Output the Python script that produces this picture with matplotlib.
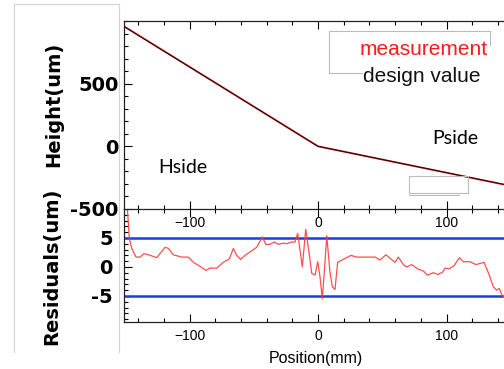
import matplotlib
matplotlib.use("Agg")
import matplotlib.pyplot as plt
from matplotlib.ticker import MultipleLocator, FixedLocator
from matplotlib.lines import Line2D

# design profile (um) along position (mm)
design_x = [-150, 0, 150]
design_h = [950, 0, -315]
meas_x = [-150, -75, 0, 75, 150]
meas_h = [951, 476, 0, -158, -316]

# residuals (um)
res_x = [-149, -146.8, -145, -141.6, -138.5, -135.4, -132, -125.5, -119, -116.5,
         -112.6, -106, -101, -97, -91.8, -87.2, -84, -78.8, -73.7, -69,
         -65.9, -63.3, -60.2, -56.8, -52.9, -47.7, -43.3, -40.7, -37.4, -34,
         -30.9, -27, -24.4, -20.5, -17.9, -15.8, -12.2, -9.6, -6.2, -4.9,
         -2.3, -0.2, 1.6, 3.3, 4.9, 6.8, 9.3, 11.1, 13.2, 15.3,
         20.5, 25.7, 30.1, 36.6, 44.4, 48.2, 52.9, 56, 59.9, 62.5,
         66.4, 69, 72.9, 78.1, 82, 85.1, 89.8, 93.6, 97, 98.8,
         102.2, 105.8, 110, 113.1, 118.3, 123, 126, 129.2, 133.3, 136.4,
         139, 141.1, 143, 145, 148]
res_v = [12, 4.9, 3.2, 1.7, 1.7, 2.3, 2.1, 1.6, 3.4, 3.2,
         2.1, 1.7, 1.7, 0.8, 0.1, -0.6, -0.2, -0.2, 0.8, 1.4,
         3.2, 2.0, 1.3, 2.0, 2.6, 3.4, 5.2, 3.9, 3.9, 4.3,
         3.9, 4.1, 4.0, 4.3, 4.3, 5.8, 0.0, 6.5, 1.2, -1.1,
         -1.4, 0.9, -1.8, -5.5, -0.9, 5.4, -0.9, -3.4, -3.9, 0.8,
         1.4, 2.0, 1.7, 1.7, 1.7, 1.2, 2.1, 1.5, 0.8, 1.7,
         0.4, 0.0, 0.4, -0.4, -0.7, -1.4, -1.0, -1.3, -0.9, -0.2,
         -0.3, 0.2, 1.6, 0.9, 0.9, 0.4, 0.6, 0.8, -1.4, -3.4,
         -4.0, -3.7, -4.8, -5.3, -6.0]
limits = [5, -5]

W, H = 504, 369


def fx(x):
    return x / W


def fy(y):
    return 1 - y / H


def fig_line(xs, ys, color="#bbbbbb", lw=0.8):
    fig.add_artist(Line2D([fx(v) for v in xs], [fy(v) for v in ys],
                          transform=fig.transFigure, color=color, lw=lw))


fig = plt.figure(figsize=(W / 100, H / 100), dpi=100)

left = fx(124)
width = (510.75 - 124) / W
ax_res = fig.add_axes([left, fy(322), width, fy(209) - fy(322)])
ax_top = fig.add_axes([left, fy(209), width, fy(21) - fy(209)])
ax_res.patch.set_visible(False)

tick_font = {"family": "DejaVu Sans", "weight": "bold", "size": 14}

# top panel
ax_top.plot(meas_x, meas_h, color="#e02a2a", lw=1.3)
ax_top.plot(design_x, design_h, color="#1a0505", lw=0.7)
ax_top.set_xlim(-151, 150)
ax_top.set_ylim(-500, 1000)
ax_top.xaxis.set_major_locator(MultipleLocator(100))
ax_top.xaxis.set_minor_locator(MultipleLocator(20))
ax_top.yaxis.set_major_locator(FixedLocator([-500, 0, 500]))
ax_top.yaxis.set_minor_locator(MultipleLocator(100))
ax_top.set_yticklabels(["-500", "0", "500"], fontdict=tick_font)
ax_top.tick_params(axis="x", which="both", direction="in", top=True, bottom=True,
                   labelsize=10, pad=5)
ax_top.tick_params(axis="y", which="both", direction="in", left=True, right=False, pad=4)
ax_top.tick_params(which="major", length=6, width=0.8)
ax_top.tick_params(which="minor", length=3, width=0.8)
for lab in ax_top.get_xticklabels():
    lab.set_fontfamily("Liberation Sans")

ax_top.text(-105, -170, "Hside", family="Lato", fontsize=14, ha="center", va="center")
ax_top.text(107, 60, "Pside", family="Lato", fontsize=14, ha="center", va="center")

# residual panel
for lim in limits:
    ax_res.axhline(lim, color="#1a3ce8", lw=1.8)
ax_res.plot(res_x, res_v, color="#ff3b3b", lw=0.9, alpha=0.9)
ax_res.set_xlim(-151, 150)
ax_res.set_ylim(-9.5, 10)
ax_res.xaxis.set_major_locator(MultipleLocator(100))
ax_res.xaxis.set_minor_locator(MultipleLocator(20))
ax_res.yaxis.set_major_locator(FixedLocator([-5, 0, 5]))
ax_res.yaxis.set_minor_locator(MultipleLocator(1))
ax_res.set_yticklabels(["-5", "0", "5"], fontdict=tick_font)
ax_res.tick_params(axis="x", which="both", direction="in", top=True, bottom=True,
                   labelsize=10, pad=5)
ax_res.tick_params(axis="y", which="both", direction="in", left=True, right=False, pad=8)
ax_res.tick_params(which="major", length=6, width=0.8)
ax_res.tick_params(which="minor", length=3, width=0.8)
for lab in ax_res.get_xticklabels():
    lab.set_fontfamily("Liberation Sans")

for ax in (ax_top, ax_res):
    for sp in ax.spines.values():
        sp.set_linewidth(0.9)
        sp.set_color("#222222")
ax_res.spines["top"].set_visible(False)

# axis titles
fig.text(fx(54), fy(104), "Height(um)", rotation=90, ha="center", va="center",
         family="DejaVu Sans", weight="bold", fontsize=14)
fig.text(fx(52), fy(266), "Residuals(um)", rotation=90, ha="center", va="center",
         family="DejaVu Sans", weight="bold", fontsize=14)
fig.text(fx(316), fy(358), "Position(mm)", ha="center", va="center",
         family="Liberation Sans", fontsize=11.5)

# leftover legend box (partly hidden) and small empty box
fig_line([490, 329, 329, 362], [31, 31, 73, 73])
fig_line([490, 490], [31, 45])
fig_line([409, 468, 468, 409, 409], [176, 176, 193, 193, 176])
fig_line([409, 459], [195, 195])

fig.text(fx(424), fy(55), "measurement", color="#ff1a1a", ha="center", va="baseline",
         family="Liberation Sans", fontsize=15)
fig.text(fx(422), fy(81.5), "design value", color="#111111", ha="center", va="baseline",
         family="Liberation Sans", fontsize=15)

# gray frame around the left labels
fig_line([14, 14], [4, 352], color="#d4d4d4")
fig_line([119, 119], [4, 352], color="#d4d4d4")
fig_line([14, 119], [4, 4], color="#d4d4d4")

fig.savefig("out.png", dpi=100)
